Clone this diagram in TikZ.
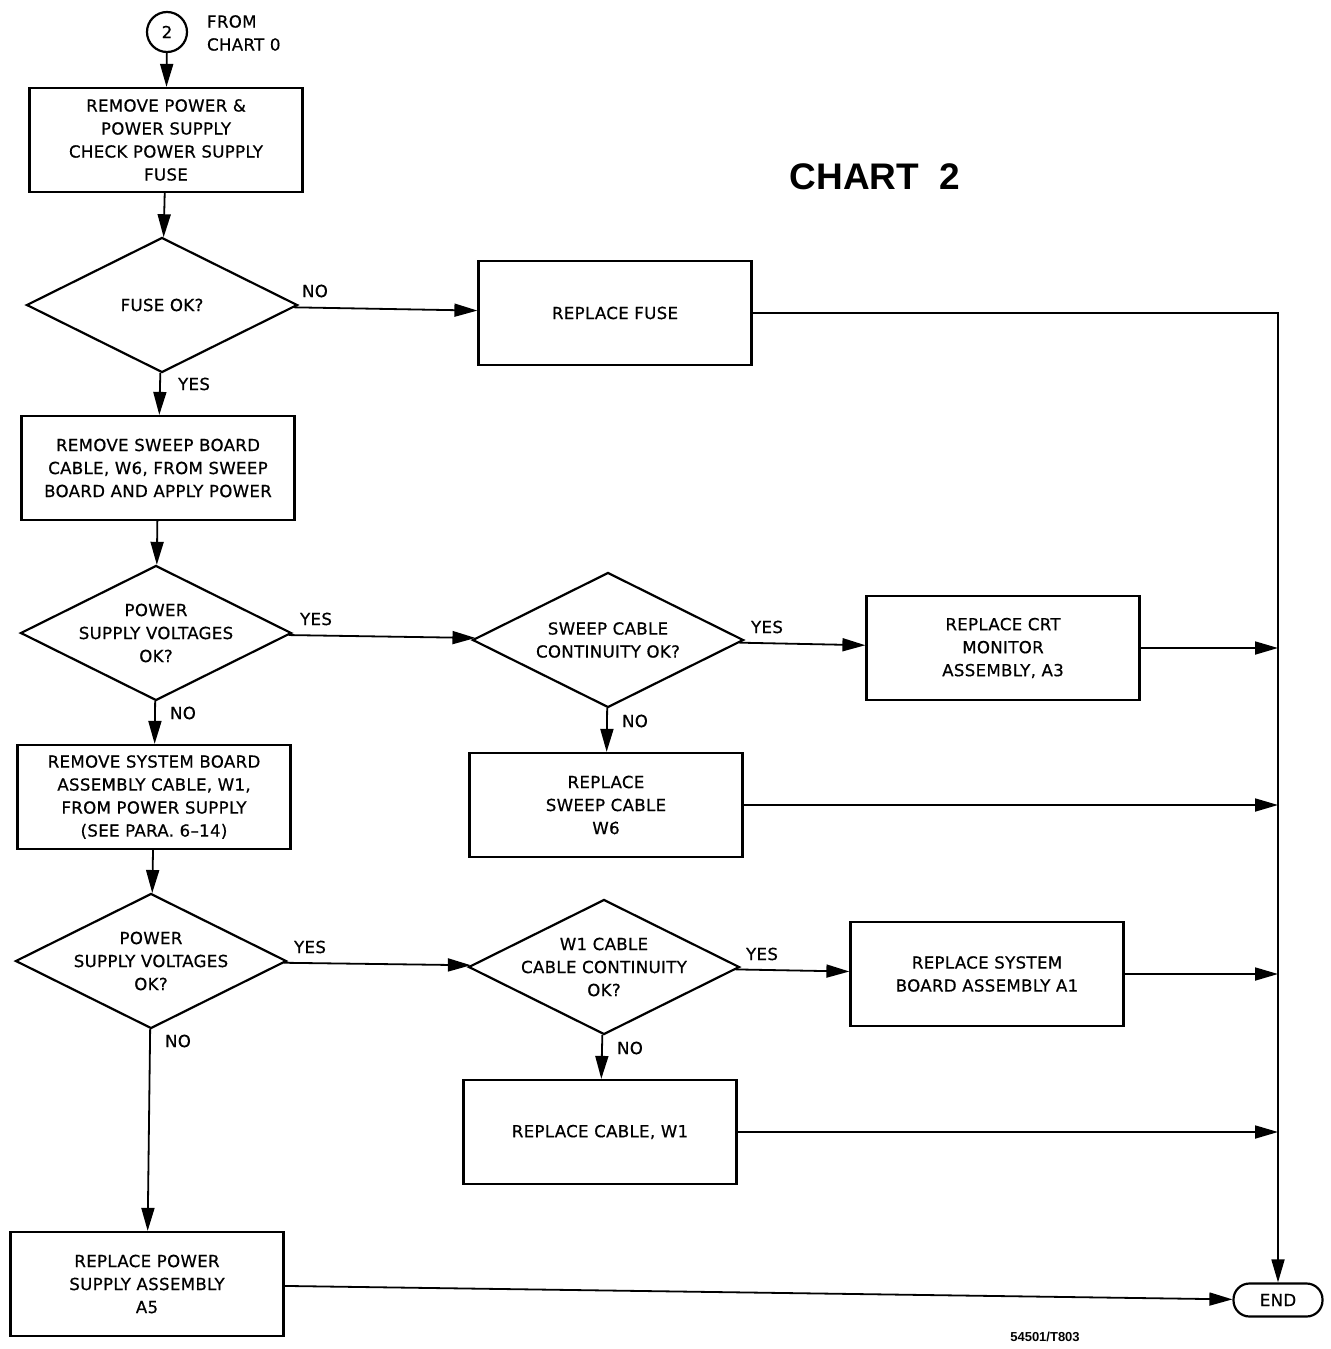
\documentclass[tikz,border=0pt]{standalone}
\usepackage{fontspec}
\setmainfont{DejaVu Sans}[FakeBold=0.6,LetterSpace=2]
\newfontfamily\titlefont{Liberation Sans}
\usetikzlibrary{shapes.geometric,arrows.meta}

\begin{document}
\begin{tikzpicture}[x=0.5pt,y=-0.5pt,
  font=\fontsize{8.3}{11.5}\selectfont,
  box/.style={draw,line width=1.1pt,minimum width=136.5pt,minimum height=52pt,align=center,inner sep=2pt},
  dia/.style={draw,diamond,line width=1.1pt,minimum width=135.5pt,minimum height=67.5pt,inner sep=0pt},
  flow/.style={line width=0.9pt,-{Triangle[length=11.5pt,width=6.5pt]}},
  ans/.style={inner sep=0pt}]
\useasboundingbox (0,0) rectangle (1330,1349);
\node[circle,draw,line width=1.1pt,minimum size=20pt,inner sep=0pt] (c2) at (167,32) {2};
\node[anchor=west,align=left] (from) at (200,33) {FROM\\CHART 0};
\node[font=\titlefont\bfseries\fontsize{18.5}{20}\selectfont] (title) at (875,177) {CHART\ \ 2};
% left column
\node[box] (b1) at (166,140) {REMOVE POWER \&\\POWER SUPPLY\\CHECK POWER SUPPLY\\FUSE};
\node[dia,label={center:FUSE OK?}] (d1) at (162,305) {};
\node[box] (b2) at (158,468) {REMOVE SWEEP BOARD\\CABLE, W6, FROM SWEEP\\BOARD AND APPLY POWER};
\node[dia,label={[align=center]center:{POWER\\SUPPLY VOLTAGES\\OK?}}] (d2) at (156,633) {};
\node[box] (b3) at (154,797) {REMOVE SYSTEM BOARD\\ASSEMBLY CABLE, W1,\\FROM POWER SUPPLY\\(SEE PARA. 6--14)};
\node[dia,label={[align=center]center:{POWER\\SUPPLY VOLTAGES\\OK?}}] (d4) at (151,961) {};
\node[box] (psa) at (147,1284) {REPLACE POWER\\SUPPLY ASSEMBLY\\A5};
% middle column
\node[box] (fuse) at (615,313) {REPLACE FUSE};
\node[dia,label={[align=center]center:{SWEEP CABLE\\CONTINUITY OK?}}] (d3) at (608,640) {};
\node[box] (sweep) at (606,805) {REPLACE\\SWEEP CABLE\\W6};
\node[dia,label={[align=center]center:{W1 CABLE\\CABLE CONTINUITY\\OK?}}] (d5) at (604,967) {};
\node[box] (w1) at (600,1132) {REPLACE CABLE, W1};
% right column
\node[box] (crt) at (1003,648) {REPLACE CRT\\MONITOR\\ASSEMBLY, A3};
\node[box] (sys) at (987,974) {REPLACE SYSTEM\\BOARD ASSEMBLY A1};
\node[draw,line width=1.1pt,rounded corners=8pt,minimum width=44.5pt,minimum height=16.5pt] (endn) at (1278,1300) {END};
\node[font=\titlefont\bfseries\fontsize{6.5}{7}\selectfont] (ref) at (1045,1337) {54501/T803};
% answers
\node[ans] (no1) at (315,291) {NO};
\node[ans] (yes1) at (194,384) {YES};
\node[ans] (yes2) at (316,619) {YES};
\node[ans] (no2) at (183,713) {NO};
\node[ans] (yes3) at (767,627) {YES};
\node[ans] (no3) at (635,721) {NO};
\node[ans] (yes4) at (310,947) {YES};
\node[ans] (no4) at (178,1041) {NO};
\node[ans] (yes5) at (762,954) {YES};
\node[ans] (no5) at (630,1048) {NO};
% flow lines
\draw[flow] (c2) -- (b1);
\draw[flow] (b1) -- (d1);
\draw[flow] (d1) -- (fuse);
\draw[flow] (d1) -- (b2);
\draw[flow] (b2) -- (d2);
\draw[flow] (d2) -- (d3);
\draw[flow] (d3) -- (crt);
\draw[flow] (d3) -- (sweep);
\draw[flow] (d2) -- (b3);
\draw[flow] (b3) -- (d4);
\draw[flow] (d4) -- (d5);
\draw[flow] (d5) -- (sys);
\draw[flow] (d5) -- (w1);
\draw[flow] (d4) -- (psa);
\draw[flow] (psa) -- (endn);
\draw[flow] (fuse.east) -- (fuse.east -| endn) -- (endn);
\draw[flow] (crt.east) -- (crt.east -| endn);
\draw[flow] (sweep.east) -- (sweep.east -| endn);
\draw[flow] (sys.east) -- (sys.east -| endn);
\draw[flow] (w1.east) -- (w1.east -| endn);
\end{tikzpicture}
\end{document}
